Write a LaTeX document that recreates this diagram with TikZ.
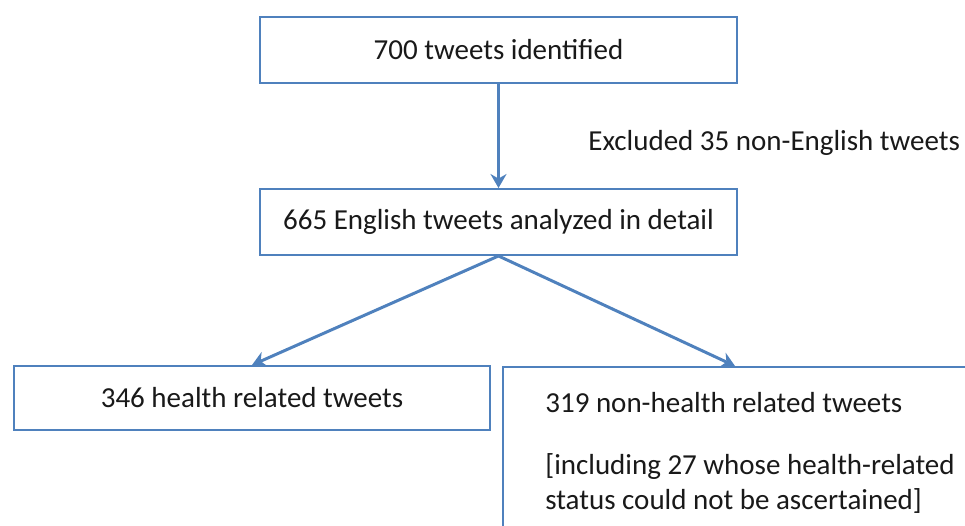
\documentclass[tikz,border=0pt]{standalone}
\usepackage{fontspec}
\setmainfont{Carlito}
\usepackage{tikz}
\usetikzlibrary{arrows.meta, positioning, calc, shadows}
\definecolor{flowblue}{RGB}{79, 129, 189}
\definecolor{flowtext}{RGB}{25, 25, 25}

\begin{document}
\begin{tikzpicture}[
  box/.style={draw=flowblue, line width=1.1pt, fill=white, text=flowtext,
              font=\fontsize{16.5}{20.4}\selectfont, inner sep=4pt, align=center,
              drop shadow={opacity=0.18, shadow xshift=0.6pt, shadow yshift=-0.8pt}},
  lbl/.style={text=flowtext, font=\fontsize{16.5}{20.4}\selectfont, inner sep=0pt, align=left},
  flow/.style={-{Stealth[length=2.8mm, width=3.2mm]}, line width=1.7pt, flowblue},
]
\useasboundingbox (0,0) rectangle (19.3,10.5);

% Top of the flow
\node[box, minimum width=9.54cm, minimum height=1.32cm] (identified) at (9.97, 9.5) {700 tweets identified};
\node[box, minimum width=9.54cm, minimum height=1.32cm] (english) at (9.97, 6.06) {665 English tweets analyzed in detail};
\node[lbl, anchor=west] (excluded) at (11.76, 7.64) {Excluded 35 non-English tweets};

\draw[flow] (identified) -- (english);

% Split
\node[box, minimum width=9.52cm, minimum height=1.28cm] (health) at (5.04, 2.54) {346 health related tweets};
\node[box, anchor=north west, minimum width=10cm, minimum height=4cm] (nonhealth) at (10.04, 3.18) {};
\node[lbl, anchor=west] (nhcount) at (10.9, 2.44) {319 non-health related tweets};
\node[lbl, anchor=west] (nhnote) at (10.9, 0.83) {[including 27 whose health-related\\status could not be ascertained]};

\coordinate (nhtop) at ([xshift=4.66cm]nonhealth.north west);
\draw[flow] (english.south) -- (health.north);
\draw[flow] (english.south) -- (nhtop);
\end{tikzpicture}
\end{document}
